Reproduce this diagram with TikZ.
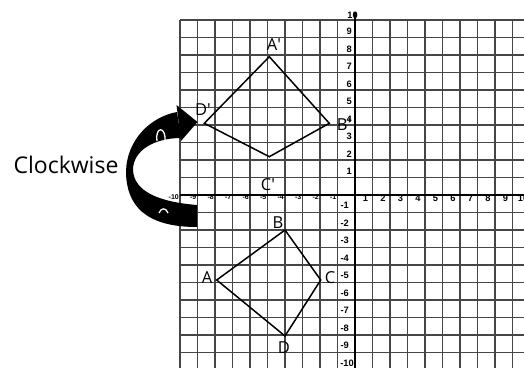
\documentclass[tikz,border=0pt]{standalone}
\usepackage{fontspec}
\setmainfont{Open Sans}
\newfontfamily\tickfont{Liberation Sans}
\begin{document}
\begin{tikzpicture}[x=1pt,y=-1pt,
  gridline/.style={draw=gray!55!black, line width=1.4pt},
  axisline/.style={draw=black, line width=2.4pt},
  ticklbl/.style={font=\tickfont\bfseries\fontsize{9.3}{10}\selectfont, inner sep=0pt},
  smalltick/.style={font=\tickfont\bfseries\fontsize{7}{8}\selectfont, inner sep=0pt, anchor=east},
  ptlbl/.style={font=\fontsize{16.5}{18}\selectfont, inner sep=0pt, anchor=base},
  quad/.style={draw=black, line width=1.5pt, line join=miter},
  whitemark/.style={draw=white, line width=1.3pt}]
\useasboundingbox (0,0) rectangle (524,367);
\fill[white] (0,0) rectangle (524,367);
% grid
\foreach \k in {-10,...,10}
  \draw[gridline] ({355+17.5*\k},20) -- ({355+17.5*\k},372);
\foreach \k in {-10,...,10}
  \draw[gridline] (180,{195-17.5*\k}) -- (530,{195-17.5*\k});
% axes
\coordinate (xl) at (180,195);
\coordinate (xr) at (530,195);
\coordinate (yt) at (355,12);
\coordinate (yb) at (355,372);
\draw[axisline] (xl) -- (xr);
\draw[axisline] (yt) -- (yb);
% tick labels
\foreach \k in {1,...,10}
  \node[ticklbl] (xp\k) at ({355+17.5*\k-7},198) {\k};
\foreach \k in {1,...,10}
  \node[smalltick] (xn\k) at ({355-17.5*\k-1},197) {-\k};
\foreach \k in {1,...,9}
  \node[ticklbl, anchor=east] (yp\k) at (352,{195-17.5*\k-6}) {\k};
\node[ticklbl, anchor=east] (yp10) at (358,15) {10};
\foreach \k in {1,...,9}
  \node[ticklbl, anchor=east] (yn\k) at (349,{195+17.5*\k-7}) {-\k};
\node[ticklbl, anchor=east] (yn10) at (354,363) {-10};
% original quadrilateral
\coordinate (A) at (216.7,280);
\coordinate (B) at (285,230);
\coordinate (C) at (320.7,280);
\coordinate (D) at (285,336);
\draw[quad] (A) -- (B) -- (C) -- (D) -- cycle;
% image quadrilateral
\coordinate (A1) at (269.3,56.7);
\coordinate (B1) at (329.3,123.3);
\coordinate (C1) at (269.3,156.7);
\coordinate (D1) at (204.3,123.3);
\draw[quad] (A1) -- (B1) -- (C1) -- (D1) -- cycle;
% vertex labels
\node[ptlbl] (lA) at (207,283.3) {A};
\node[ptlbl] (lB) at (278,228.3) {B};
\node[ptlbl] (lC) at (330,283.3) {C};
\node[ptlbl] (lD) at (284,353) {D};
\node[ptlbl] (lA1) at (274,50) {A′};
\node[ptlbl] (lB1) at (344,130) {B′};
\node[ptlbl] (lC1) at (268,190) {C′};
\node[ptlbl] (lD1) at (203,115) {D′};
% curved arrow
\fill[black] (177,112) .. controls (150,117) and (127,140) .. (126,171)
  .. controls (126,205) and (145,227) .. (197,227) -- (197,205)
  .. controls (160,202) and (134,192) .. (133,170)
  .. controls (133,150) and (155,138) .. (181,138) -- cycle;
\fill[black] (176.5,105) -- (197.5,122) -- (181,141) -- cycle;
\draw[whitemark] (157,141) .. controls (155,126) and (166,126) .. (165,141);
\draw[whitemark] (159,213) .. controls (161,207.5) and (166,207.5) .. (168,213);
% caption
\node[font=\fontsize{23}{26}\selectfont, inner sep=0pt, anchor=base] (cw) at (66,173) {Clockwise};
\end{tikzpicture}
\end{document}
